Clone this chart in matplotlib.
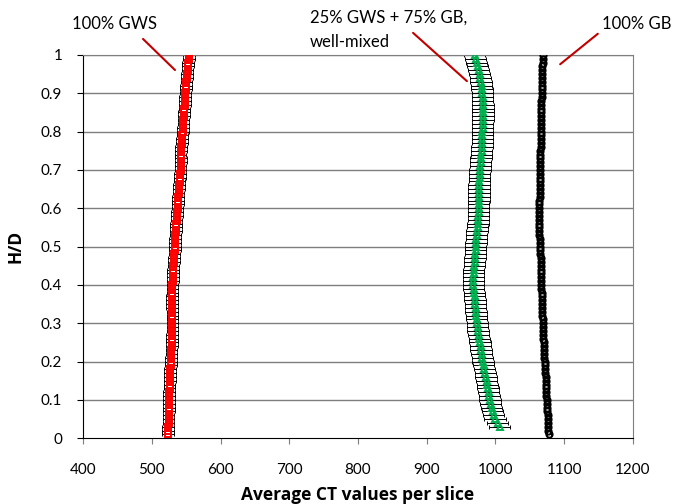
import numpy as np
import matplotlib
matplotlib.use("Agg")
from matplotlib import pyplot as plt

plt.rcParams['font.family'] = ['Lato', 'DejaVu Sans']

# H/D positions of each slice
hd_gws = [round(0.01 * i, 2) for i in range(1, 101)]
hd_mix = [round(0.01 * i, 2) for i in range(3, 101)]
hd_gb = [round(0.01 * i, 2) for i in range(1, 101)]

# average CT per slice, 100% GWS
ct_gws = [524, 524, 524, 524.5, 524.5, 524.5, 525, 525, 525, 525,
          525.5, 525.5, 526, 526, 526.5, 526.5, 527, 527, 527.5, 528,
          528, 528.5, 528.5, 529, 529, 529.5, 529.5, 530, 530, 530,
          530, 530, 530, 529.5, 529.5, 529.5, 529.5, 530, 530, 530,
          530.5, 530.5, 531, 531, 531.5, 532, 532.5, 533, 533.5, 533.5,
          534, 534, 534.5, 535, 535.5, 535.5, 536, 536.5, 537, 537.5,
          538, 538, 538.5, 539, 539.5, 540, 540.5, 541, 541.5, 542,
          542, 542.5, 542.5, 542, 542.5, 543, 543.5, 544, 544.5, 545,
          545.5, 546, 546, 546.5, 547, 547.5, 548, 548, 548.5, 549,
          549.5, 550, 550.5, 551, 551.5, 552, 552.5, 553, 554, 554.5]

# 25% GWS + 75% GB, well-mixed
ct_mix = [1006, 1003, 999.5, 997.5, 996, 994.5, 993, 992,
          991, 990, 989, 988, 987, 986, 985, 984, 983, 982,
          981, 980, 979, 978.5, 977.5, 976.5, 975.5, 974.5, 974, 973.5,
          972.5, 972, 971.5, 971, 970.5, 970, 969.5, 969, 968.5, 968,
          968, 968, 968.5, 968.5, 969, 969.5, 970, 970.5, 971, 971,
          971.5, 972, 972.5, 973, 974, 974.5, 975, 975, 975.5, 975.5,
          975.5, 976, 976, 976, 976, 976, 976.5, 977, 977, 977.5,
          978, 978.5, 979, 979.5, 980, 980.5, 981, 981, 981, 981,
          981.5, 981.5, 982, 982, 982, 982, 982, 981.5, 981.5, 981,
          980.5, 980, 979, 978, 977, 975.5, 974, 972.5, 971, 969.5]

# 100% GB
ct_gb = [1077.5, 1077, 1077, 1076.5, 1076, 1076, 1075.5, 1075, 1075, 1074.5,
         1074, 1074, 1073.5, 1073.5, 1073, 1073, 1072.5, 1072, 1072, 1071.5,
         1071, 1071, 1070.5, 1070.5, 1070, 1069.5, 1069.5, 1069, 1069, 1068.5,
         1068.5, 1068, 1068, 1068, 1067.5, 1067.5, 1067, 1067, 1066.5, 1066.5,
         1066.5, 1066, 1066, 1066, 1065.5, 1065.5, 1065.5, 1065, 1065, 1065,
         1064.5, 1064.5, 1064, 1064, 1064, 1064, 1064, 1064, 1064, 1064,
         1064, 1064, 1064.5, 1064.5, 1064.5, 1064.5, 1064.5, 1064.5, 1064.5, 1064.5,
         1065, 1065, 1065, 1065, 1065, 1065.5, 1065.5, 1065.5, 1065.5, 1065.5,
         1066, 1066, 1066, 1066, 1066.5, 1066.5, 1066.5, 1066.5, 1067, 1067,
         1067, 1067.5, 1067.5, 1067.5, 1068, 1068, 1068, 1068.5, 1068.5, 1069]

# error (std) per slice, roughly constant per series
err_gws = 8.5
err_mix = 15.5
err_gb = 3

x_ticks = [400, 500, 600, 700, 800, 900, 1000, 1100, 1200]
y_ticks = [0, 0.1, 0.2, 0.3, 0.4, 0.5, 0.6, 0.7, 0.8, 0.9, 1]
y_labels = ['0', '0.1', '0.2', '0.3', '0.4', '0.5', '0.6', '0.7', '0.8', '0.9', '1']

fig = plt.figure(figsize=(6.89, 5.04), dpi=100)
ax = fig.add_axes([0.1205, 0.1304, 0.7982, 0.7605])

for y in y_ticks[1:]:
    ax.axhline(y, color='#7f7f7f', lw=1, zorder=0)

series = [
    (ct_gws, hd_gws, err_gws, 's', '#ff0000'),
    (ct_mix, hd_mix, err_mix, '^', '#00b050'),
    (ct_gb, hd_gb, err_gb, 'o', '#000000'),
]
for xs, ys, e, m, c in series:
    ax.errorbar(xs, ys, xerr=e, fmt='none', ecolor='black', elinewidth=0.7,
                capsize=1.5, capthick=0.7, zorder=2)
    ax.plot(xs, ys, ls='none', marker=m, ms=4.5, mfc='none', mec=c, mew=1.4, zorder=3)

ax.set_xlim(400, 1200)
ax.set_ylim(0, 1)
ax.set_xticks(x_ticks)
ax.set_yticks(y_ticks)
ax.set_yticklabels(y_labels)
ax.tick_params(labelsize=11, direction='out', length=4, width=0.8)
ax.tick_params(axis='y', pad=11)
ax.tick_params(axis='x', colors='#7f7f7f', labelcolor='black', pad=14)
for s in ['top', 'right']:
    ax.spines[s].set_color('#7f7f7f')
for s in ['left', 'bottom']:
    ax.spines[s].set_color('black')

lab = dict(fontsize=12.5, fontweight='bold', family=['Open Sans', 'DejaVu Sans'])
ax.set_xlabel('Average CT values per slice', labelpad=6, **lab)
ax.set_ylabel('H/D', labelpad=12, **lab)

# callouts in figure pixel coords (origin top-left)
def px(x, y):
    return (x / 689, 1 - y / 504)

ann = dict(xycoords='figure fraction', textcoords='figure fraction',
           arrowprops=dict(arrowstyle='-', color='#c00000', lw=1.5))
ax.annotate('', xy=px(177, 72), xytext=px(141, 37), **ann)
ax.annotate('', xy=px(469, 83), xytext=px(411, 31), **ann)
ax.annotate('', xy=px(558, 66), xytext=px(600, 32), **ann)
fig.text(*px(115, 24), '100% GWS', ha='center', va='center', fontsize=12)
fig.text(*px(310, 18), '25% GWS + 75% GB,', ha='left', va='center', fontsize=12)
fig.text(*px(310, 42), 'well-mixed', ha='left', va='center', fontsize=12)
fig.text(*px(637, 24), '100% GB', ha='center', va='center', fontsize=12)

fig.savefig('out.png', dpi=100)
